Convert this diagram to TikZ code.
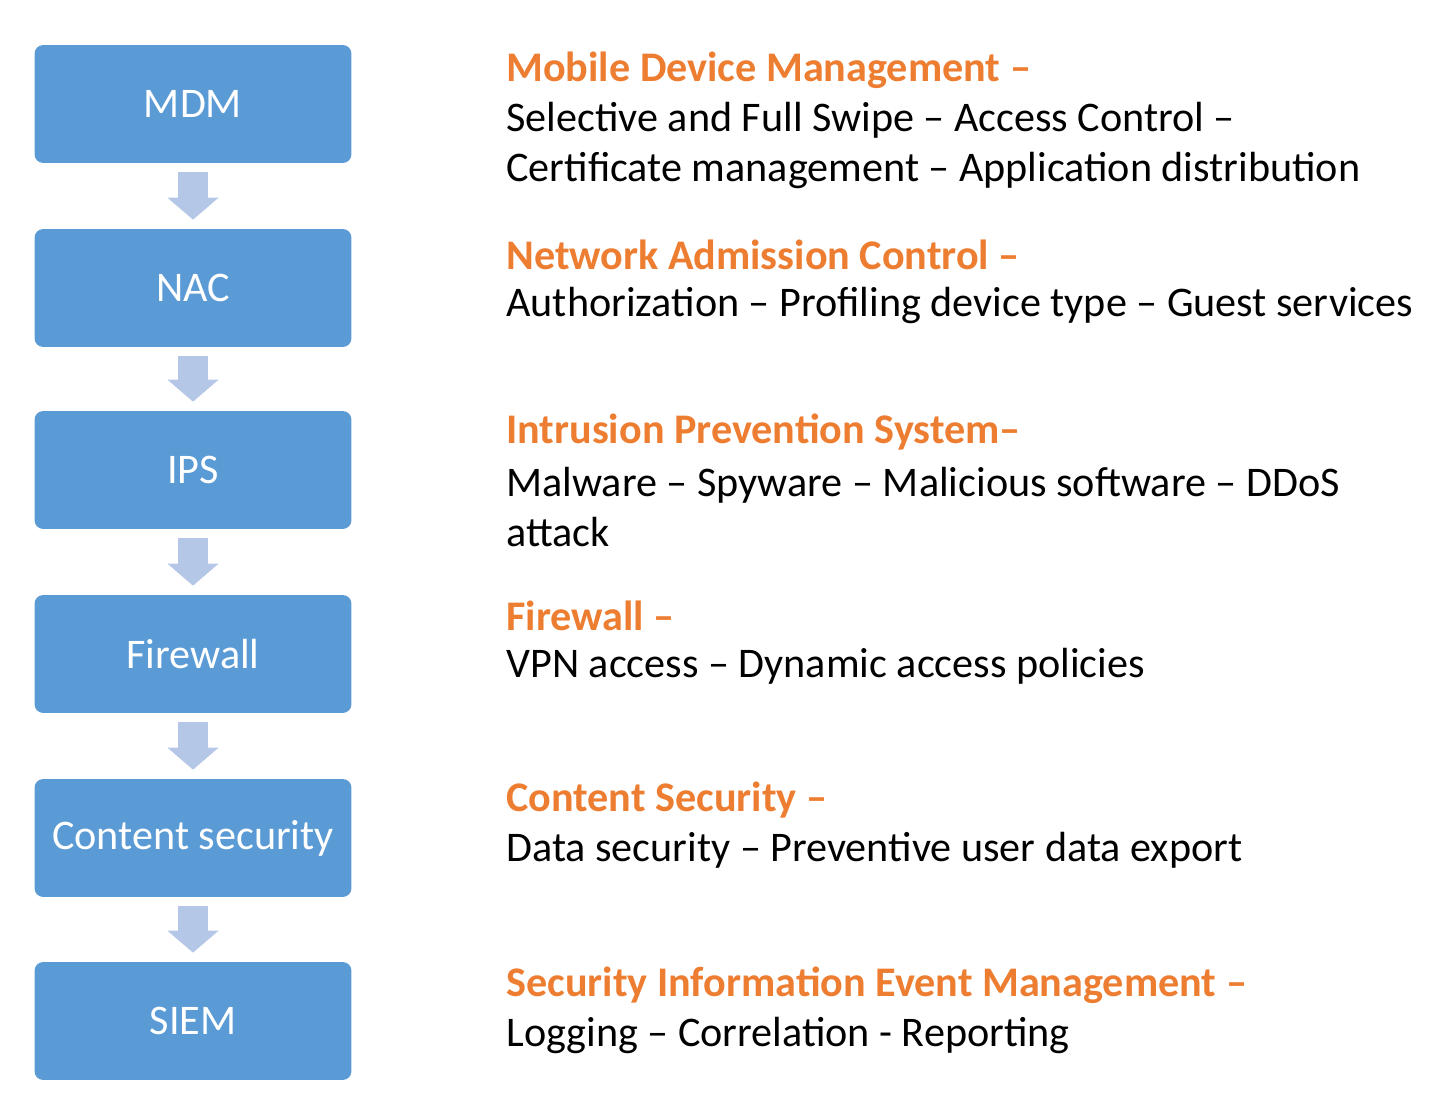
\documentclass[tikz,border=0pt]{standalone}
\usepackage{fontspec}
\setmainfont{Carlito}
\usetikzlibrary{positioning, arrows.meta}
\definecolor{boxblue}{HTML}{5B9BD5}
\definecolor{arrowblue}{HTML}{B4C7E7}
\definecolor{headorange}{HTML}{ED7D31}
\tikzset{
  stage/.style={rectangle, rounded corners=5pt, fill=boxblue, text=white, minimum width=6.34cm, minimum height=2.36cm, font=\fontsize{24}{28}\selectfont},
  desc/.style={anchor=west, align=left, font=\fontsize{24}{28.45}\selectfont, inner sep=0pt},
  flow/.style={draw=arrowblue, line width=0.6cm, -{Triangle[length=4.4mm, width=10mm]}, shorten <=1.8mm, shorten >=1.8mm}
}
\newcommand{\hd}[1]{\textcolor{headorange}{\textbf{#1}}}
\begin{document}
\begin{tikzpicture}[x=0.02cm, y=-0.02cm]
        \useasboundingbox (0,0) rectangle (1438,1102);

        \node[stage] (mdm) at (193,104) {MDM};
        \node[stage] (nac) at (193,288) {NAC};
        \node[stage] (ips) at (193,470) {IPS};
        \node[stage] (fw) at (193,654) {Firewall};
        \node[stage] (cs) at (193,838) {Content security};
        \node[stage] (siem) at (193,1021) {SIEM};

        % Flow arrows
        \draw[flow] (mdm) -- (nac);
        \draw[flow] (nac) -- (ips);
        \draw[flow] (ips) -- (fw);
        \draw[flow] (fw) -- (cs);
        \draw[flow] (cs) -- (siem);

        % Descriptions
        \node[desc] (tmdm) at (506,70) {\hd{Mobile Device Management –}};
        \node[desc] (dmdm) at (506,145) {Selective and Full Swipe – Access Control –\\Certificate management – Application distribution};
        \node[desc] (tnac) at (506,255) {\hd{Network Admission Control –}};
        \node[desc] (dnac) at (506,305) {Authorization – Profiling device type – Guest services};
        \node[desc] (tips) at (506,432) {\hd{Intrusion Prevention System–}};
        \node[desc] (dips) at (506,507) {Malware – Spyware – Malicious software – DDoS\\attack};
        \node[desc] (tfw) at (506,616) {\hd{Firewall –}};
        \node[desc] (dfw) at (506,666) {VPN access – Dynamic access policies};
        \node[desc] (tcs) at (506,800) {\hd{Content Security –}};
        \node[desc] (dcs) at (506,850) {Data security – Preventive user data export};
        \node[desc] (tsiem) at (506,985) {\hd{Security Information Event Management –}};
        \node[desc] (dsiem) at (506,1035) {Logging – Correlation - Reporting};
    \end{tikzpicture}
\end{document}
